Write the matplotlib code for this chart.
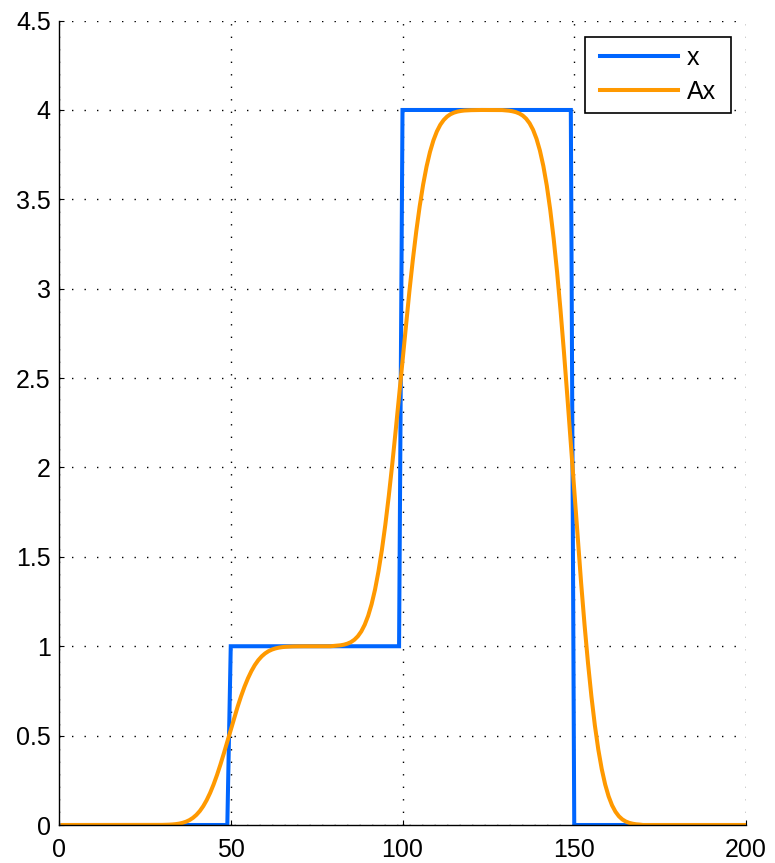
import matplotlib
matplotlib.use("Agg")
import matplotlib.pyplot as plt
from matplotlib.patches import Rectangle
from matplotlib.transforms import IdentityTransform
import numpy as np

plt.rcParams['font.family'] = ['Liberation Sans', 'DejaVu Sans']
plt.rcParams['lines.scale_dashes'] = False

# sample index
t = list(range(1, 201))

# x: step signal
x_vals = [0.0] * 49 + [1.0] * 50 + [4.0] * 50 + [0.0] * 51

# Ax: smoothed signal
ax_vals = (
    [0.0] * 29
    + [0.0006, 0.0010, 0.0018, 0.0030, 0.0049, 0.0078, 0.0122, 0.0186, 0.0276, 0.0401,
       0.0567, 0.0783, 0.1056, 0.1394, 0.1797, 0.2266, 0.2798, 0.3385, 0.4013, 0.4668]
    + [0.5332, 0.5987, 0.6615, 0.7202, 0.7734, 0.8203, 0.8606, 0.8944, 0.9217, 0.9433,
       0.9599, 0.9724, 0.9814, 0.9878, 0.9922, 0.9951, 0.9970, 0.9982, 0.9990, 0.9994]
    + [0.9997, 0.9998, 0.9999, 1.0, 1.0, 1.0, 1.0, 1.0, 1.0, 1.0]
    + [1.0018, 1.0030, 1.0054, 1.0090, 1.0147, 1.0234, 1.0366, 1.0558, 1.0828, 1.1203,
       1.1701, 1.2349, 1.3168, 1.4182, 1.5391, 1.6798, 1.8394, 2.0155, 2.2039, 2.4004]
    + [2.5996, 2.7961, 2.9845, 3.1606, 3.3202, 3.4609, 3.5818, 3.6832, 3.7651, 3.8299,
       3.8797, 3.9172, 3.9442, 3.9634, 3.9766, 3.9853, 3.9910, 3.9946, 3.9970, 3.9982]
    + [3.9990, 3.9995, 3.9998, 4.0, 4.0, 4.0, 4.0, 4.0, 3.9998, 3.9994]
    + [3.9976, 3.9960, 3.9928, 3.9880, 3.9804, 3.9688, 3.9512, 3.9256, 3.8896, 3.8396,
       3.7732, 3.6868, 3.5776, 3.4424, 3.2812, 3.0936, 2.8808, 2.6460, 2.3948, 2.1328]
    + [1.8672, 1.6052, 1.3540, 1.1192, 0.9064, 0.7188, 0.5576, 0.4224, 0.3132, 0.2268,
       0.1604, 0.1104, 0.0744, 0.0488, 0.0312, 0.0196, 0.0120, 0.0072, 0.0040, 0.0024]
    + [0.0] * 31
)

x_ticks = [0, 50, 100, 150, 200]
y_ticks = [0, 0.5, 1, 1.5, 2, 2.5, 3, 3.5, 4, 4.5]
y_labels = ['0', '0.5', '1', '1.5', '2', '2.5', '3', '3.5', '4', '4.5']
series_names = ['x', 'Ax']

W, H = 775, 863
fig = plt.figure(figsize=(W / 100, H / 100), dpi=100)
ax = fig.add_axes([59 / W, 38 / H, 687 / W, 804.4 / H])

ax.plot(t, x_vals, color='#0066FF', linewidth=2.9, label=series_names[0],
        solid_joinstyle='miter')
ax.plot(t, ax_vals, color='#FF9900', linewidth=2.9, label=series_names[1])

ax.set_xlim(0, 200)
ax.set_ylim(0, 4.5)
ax.set_xticks(x_ticks)
ax.set_xticklabels([str(v) for v in x_ticks])
ax.set_yticks(y_ticks)
ax.set_yticklabels(y_labels)

ax.grid(True, color='black', linestyle=(0, (1, 8)), linewidth=1.0)
ax.set_axisbelow(True)

for s in ['top', 'right']:
    ax.spines[s].set_visible(False)
for s in ['left', 'bottom']:
    ax.spines[s].set_linewidth(1.0)
    ax.spines[s].set_color('black')

ax.tick_params(axis='both', direction='in', length=3.6, width=0.8,
               labelsize=18, colors='black')
ax.tick_params(axis='x', pad=9)
ax.tick_params(axis='y', pad=6)
ax.tick_params(top=False, right=False)

# legend without its own frame; a frame with wider side padding is added after
leg = ax.legend(loc='upper left', bbox_to_anchor=(600 / W, 1 - 46 / H),
                bbox_transform=fig.transFigure,
                borderaxespad=0, fontsize=18, handlelength=3.1,
                handletextpad=0.36, labelspacing=0.4, borderpad=0.0,
                frameon=False)
leg.set_zorder(6)

fig.canvas.draw()
bb = leg.get_window_extent()
padx, pady = 15, 9
frame = Rectangle((bb.x0 - padx, bb.y0 - pady), bb.width + 2 * padx,
                  bb.height + 2 * pady, transform=IdentityTransform(),
                  facecolor='white', edgecolor='black', linewidth=1.2,
                  zorder=5.5, clip_on=False)
ax.add_artist(frame)

fig.savefig('out.png', dpi=100)
